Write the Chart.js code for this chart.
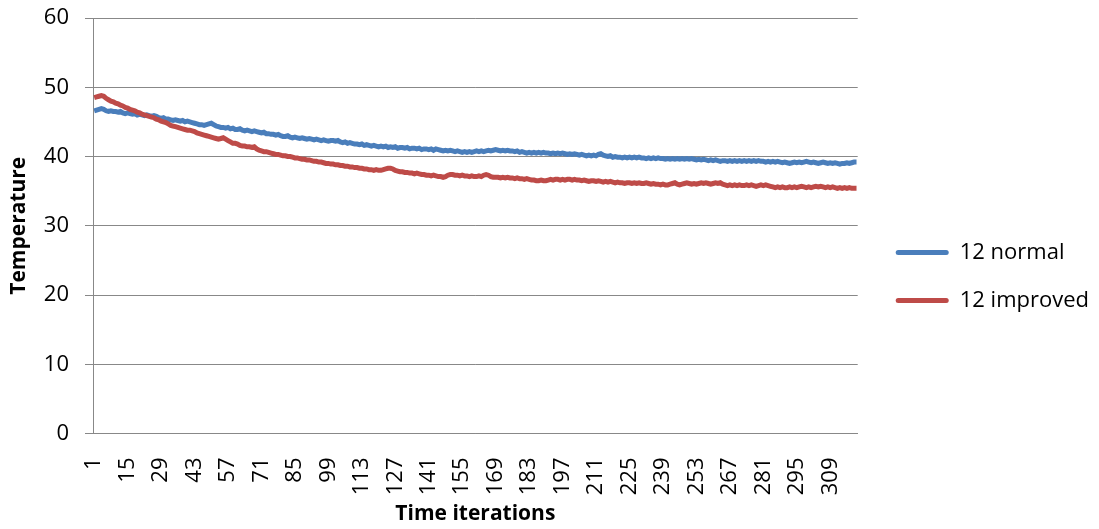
<!DOCTYPE html>
<html>
<head>
<meta charset="utf-8">
<title>Temperature over time iterations</title>
<script src="https://cdn.jsdelivr.net/npm/chart.js@4/dist/chart.umd.min.js"></script>
<style>
  html, body { margin: 0; padding: 0; background: #ffffff; }
  #wrap { width: 1099px; height: 529px; position: relative; }
</style>
</head>
<body>
<div id="wrap"><canvas id="chart" width="1099" height="529"></canvas></div>
<script>
// Time iterations 1..320
const iterations = Array.from({ length: 320 }, (_, i) => String(i + 1));
// Only every 14th iteration gets a printed label
const labelStep = 14;

const seriesNames = ['12 normal', '12 improved'];

const normalTemps = [
  46.6, 46.7, 46.8, 46.9, 46.8, 46.6, 46.5, 46.6, 46.5, 46.5,
  46.4, 46.5, 46.3, 46.2, 46.3, 46.2, 46.1, 46.2, 46.0, 46.1,
  46.0, 45.9, 46.0, 45.9, 45.8, 45.9, 45.8, 45.6, 45.5, 45.6,
  45.4, 45.4, 45.3, 45.2, 45.3, 45.2, 45.1, 45.2, 45.0, 45.1,
  45.0, 44.9, 44.8, 44.7, 44.6, 44.6, 44.5, 44.6, 44.7, 44.8,
  44.6, 44.4, 44.3, 44.2, 44.2, 44.1, 44.2, 44.0, 44.1, 43.9,
  43.9, 44.0, 43.8, 43.7, 43.8, 43.7, 43.6, 43.7, 43.6, 43.5,
  43.4, 43.5, 43.3, 43.3, 43.2, 43.2, 43.1, 43.2, 43.0, 42.9,
  42.9, 43.0, 42.8, 42.7, 42.8, 42.7, 42.6, 42.7, 42.6, 42.5,
  42.6, 42.5, 42.4, 42.5, 42.4, 42.3, 42.4, 42.3, 42.2, 42.3,
  42.3, 42.2, 42.3, 42.1, 42.0, 42.1, 41.9, 42.0, 41.9, 41.8,
  41.8, 41.7, 41.8, 41.6, 41.7, 41.6, 41.5, 41.6, 41.5, 41.4,
  41.5, 41.4, 41.5, 41.3, 41.4, 41.3, 41.4, 41.2, 41.3, 41.3,
  41.2, 41.3, 41.1, 41.2, 41.2, 41.1, 41.2, 41.0, 41.1, 41.1,
  41.0, 41.1, 40.9, 41.1, 41.0, 40.9, 40.8, 40.9, 40.8, 40.9,
  40.8, 40.7, 40.8, 40.7, 40.6, 40.7, 40.6, 40.7, 40.6, 40.7,
  40.8, 40.7, 40.8, 40.7, 40.8, 40.9, 40.8, 40.9, 41.0, 40.9,
  40.8, 40.9, 40.8, 40.9, 40.8, 40.8, 40.7, 40.8, 40.6, 40.7,
  40.6, 40.5, 40.6, 40.5, 40.6, 40.5, 40.6, 40.5, 40.6, 40.5,
  40.5, 40.4, 40.5, 40.4, 40.5, 40.4, 40.5, 40.4, 40.3, 40.4,
  40.3, 40.4, 40.3, 40.2, 40.3, 40.2, 40.1, 40.2, 40.1, 40.2,
  40.1, 40.3, 40.4, 40.2, 40.1, 40.0, 40.1, 39.9, 40.0, 39.9,
  39.9, 39.8, 39.9, 39.8, 39.9, 39.8, 39.9, 39.8, 39.9, 39.8,
  39.8, 39.7, 39.8, 39.7, 39.8, 39.7, 39.8, 39.7, 39.7, 39.6,
  39.7, 39.6, 39.7, 39.6, 39.7, 39.6, 39.7, 39.6, 39.7, 39.6,
  39.7, 39.6, 39.5, 39.6, 39.5, 39.6, 39.5, 39.4, 39.5, 39.4,
  39.5, 39.4, 39.3, 39.4, 39.4, 39.3, 39.4, 39.3, 39.4, 39.3,
  39.4, 39.3, 39.4, 39.3, 39.4, 39.3, 39.4, 39.3, 39.4, 39.3,
  39.3, 39.2, 39.3, 39.2, 39.3, 39.2, 39.3, 39.2, 39.1, 39.2,
  39.1, 39.0, 39.1, 39.2, 39.1, 39.2, 39.1, 39.2, 39.3, 39.2,
  39.1, 39.2, 39.1, 39.0, 39.1, 39.2, 39.1, 39.0, 39.1, 39.0,
  39.1, 39.0, 38.9, 39.0, 39.0, 39.1, 39.0, 39.1, 39.2, 39.2
];

const improvedTemps = [
  48.5, 48.6, 48.7, 48.8, 48.7, 48.4, 48.2, 48.0, 47.9, 47.7,
  47.6, 47.4, 47.3, 47.1, 47.0, 46.8, 46.7, 46.6, 46.4, 46.3,
  46.1, 46.0, 45.9, 45.8, 45.7, 45.6, 45.4, 45.3, 45.1, 45.0,
  44.9, 44.7, 44.5, 44.4, 44.3, 44.2, 44.1, 44.0, 43.9, 43.8,
  43.8, 43.7, 43.6, 43.4, 43.3, 43.2, 43.1, 43.0, 42.9, 42.8,
  42.7, 42.6, 42.5, 42.6, 42.7, 42.5, 42.3, 42.1, 41.9, 41.9,
  41.8, 41.6, 41.5, 41.5, 41.4, 41.4, 41.3, 41.4, 41.1, 40.9,
  40.8, 40.7, 40.7, 40.6, 40.5, 40.4, 40.3, 40.3, 40.2, 40.1,
  40.1, 40.0, 40.0, 39.9, 39.8, 39.8, 39.7, 39.6, 39.6, 39.5,
  39.5, 39.4, 39.3, 39.3, 39.2, 39.2, 39.1, 39.0, 39.0, 38.9,
  38.9, 38.8, 38.8, 38.7, 38.7, 38.6, 38.6, 38.5, 38.5, 38.4,
  38.4, 38.3, 38.3, 38.2, 38.2, 38.1, 38.1, 38.0, 38.1, 38.0,
  38.0, 38.1, 38.2, 38.3, 38.3, 38.2, 38.0, 37.9, 37.8, 37.8,
  37.7, 37.7, 37.6, 37.6, 37.5, 37.6, 37.5, 37.4, 37.4, 37.3,
  37.3, 37.2, 37.3, 37.2, 37.1, 37.1, 37.0, 37.1, 37.3, 37.4,
  37.4, 37.3, 37.3, 37.2, 37.3, 37.2, 37.2, 37.1, 37.2, 37.1,
  37.1, 37.2, 37.1, 37.3, 37.4, 37.3, 37.1, 37.0, 37.0, 37.0,
  36.9, 37.0, 36.9, 37.0, 36.9, 36.9, 36.8, 36.9, 36.8, 36.8,
  36.7, 36.8, 36.7, 36.6, 36.6, 36.5, 36.5, 36.6, 36.5, 36.5,
  36.6, 36.7, 36.6, 36.7, 36.7, 36.6, 36.7, 36.6, 36.7, 36.7,
  36.6, 36.7, 36.6, 36.6, 36.5, 36.6, 36.5, 36.4, 36.5, 36.5,
  36.4, 36.5, 36.4, 36.3, 36.4, 36.3, 36.4, 36.3, 36.2, 36.3,
  36.2, 36.2, 36.1, 36.2, 36.2, 36.1, 36.2, 36.1, 36.2, 36.1,
  36.1, 36.2, 36.1, 36.0, 36.1, 36.0, 36.0, 35.9, 36.0, 35.9,
  35.9, 36.0, 36.1, 36.2, 36.0, 35.9, 36.0, 36.1, 36.2, 36.1,
  36.0, 36.1, 36.0, 36.1, 36.2, 36.1, 36.2, 36.1, 36.0, 36.1,
  36.2, 36.1, 36.2, 36.0, 35.9, 35.8, 35.9, 35.8, 35.9, 35.8,
  35.9, 35.8, 35.8, 35.9, 35.8, 35.9, 35.8, 35.7, 35.8, 35.9,
  35.8, 35.9, 35.8, 35.7, 35.6, 35.5, 35.6, 35.5, 35.6, 35.5,
  35.5, 35.6, 35.5, 35.6, 35.5, 35.6, 35.7, 35.6, 35.5, 35.6,
  35.5, 35.6, 35.7, 35.6, 35.7, 35.6, 35.5, 35.6, 35.5, 35.6,
  35.5, 35.4, 35.5, 35.4, 35.5, 35.4, 35.5, 35.4, 35.4, 35.4
];

const yTicks = { min: 0, max: 60, step: 10 };

const FONT = "'Open Sans', 'Liberation Sans', sans-serif";
const GRID = '#888888';
const BLUE = '#4A7EBB';
const RED = '#BE4B48';

// Leaves an empty strip between the plot area and the legend entries,
// and nudges the legend block down a little.
const legendGap = {
  id: 'legendGap',
  afterInit(chart, args, opts) {
    const legend = chart.legend;
    if (!legend) return;
    const fit = legend.fit;
    legend.fit = function () {
      fit.call(this);
      this.width += opts.gap;
    };
  },
  afterLayout(chart, args, opts) {
    const legend = chart.legend;
    if (!legend) return;
    legend.left += opts.gap;
    legend.top += opts.dy;
    legend.bottom += opts.dy;
  }
};

new Chart(document.getElementById('chart'), {
  type: 'line',
  plugins: [legendGap],
  data: {
    labels: iterations,
    datasets: [
      {
        label: seriesNames[0],
        data: normalTemps,
        borderColor: BLUE,
        backgroundColor: BLUE,
        borderWidth: 5,
        pointRadius: 0,
        tension: 0,
        order: 2
      },
      {
        label: seriesNames[1],
        data: improvedTemps,
        borderColor: RED,
        backgroundColor: RED,
        borderWidth: 5,
        pointRadius: 0,
        tension: 0,
        order: 1
      }
    ]
  },
  options: {
    responsive: false,
    animation: false,
    devicePixelRatio: 1,
    layout: { padding: { top: 18, right: 0, bottom: 0, left: 0 } },
    plugins: {
      tooltip: { enabled: false },
      legendGap: { gap: 12, dy: 3 },
      legend: {
        position: 'right',
        align: 'center',
        labels: {
          color: '#000000',
          font: { family: FONT, size: 22 },
          boxWidth: 53,
          boxHeight: 5,
          padding: 26,
          useBorderRadius: true,
          borderRadius: 2.5,
          generateLabels(chart) {
            const items = Chart.defaults.plugins.legend.labels.generateLabels(chart);
            items.sort((a, b) => a.datasetIndex - b.datasetIndex);
            return items.map(it => Object.assign(it, {
              fillStyle: it.strokeStyle,
              lineWidth: 0,
              borderRadius: 2.5
            }));
          }
        }
      }
    },
    scales: {
      x: {
        type: 'category',
        offset: true,
        grid: { display: false },
        border: { display: true, color: GRID, width: 1 },
        ticks: {
          autoSkip: false,
          maxRotation: 90,
          minRotation: 90,
          padding: 16,
          color: '#000000',
          font: { family: FONT, size: 22 },
          callback(value, index) {
            return index % labelStep === 0 ? this.getLabelForValue(value) : '';
          }
        },
        title: {
          display: true,
          text: 'Time iterations',
          color: '#000000',
          font: { family: FONT, size: 21, weight: 'bold' },
          padding: { top: 0, bottom: 2 }
        },
        afterFit(scale) { scale.height = 95.5; }
      },
      y: {
        min: yTicks.min,
        max: yTicks.max,
        grid: { color: GRID, lineWidth: 1, drawTicks: true, tickLength: 8 },
        border: { display: true, color: GRID, width: 1 },
        ticks: {
          stepSize: yTicks.step,
          padding: 16,
          color: '#000000',
          font: { family: FONT, size: 22 }
        },
        title: {
          display: true,
          text: 'Temperature',
          color: '#000000',
          font: { family: FONT, size: 21, weight: 'bold' },
          padding: { top: 6, bottom: 0 }
        },
        afterFit(scale) {
          scale.width = 93;
          scale.paddingTop = 0;
          scale.paddingBottom = 0;
        }
      }
    }
  }
});
</script>
</body>
</html>
